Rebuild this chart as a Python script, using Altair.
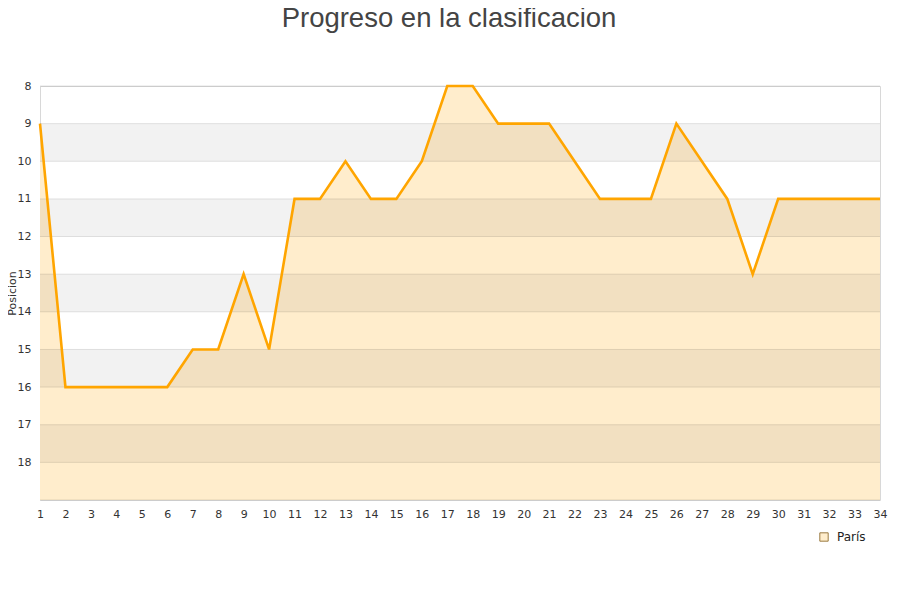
import altair as alt
import pandas as pd

jornadas = list(range(1, 35))
posiciones = [9, 16, 16, 16, 16, 16, 15, 15, 13, 15, 11, 11, 10, 11, 11, 10, 8, 8,
              9, 9, 9, 10, 11, 11, 11, 9, 10, 11, 13, 11, 11, 11, 11, 11]
equipo = "París"
band_starts = [9, 11, 13, 15, 17]
grid_values = list(range(8, 20))
y_ticks = list(range(8, 19))

df = pd.DataFrame({"jornada": jornadas, "posicion": posiciones, "equipo": [equipo] * len(jornadas)})
bands = pd.DataFrame({"y0": band_starts, "y1": [b + 1 for b in band_starts]})
grid = pd.DataFrame({"y": grid_values})

x_scale = alt.Scale(domain=[1, 34], nice=False, zero=False)
y_scale = alt.Scale(domain=[8, 19], reverse=True, nice=False, zero=False)

x_axis = alt.Axis(values=jornadas, labelAngle=0, ticks=False, domain=False, grid=False,
                  labelPadding=8, labelFontSize=11, labelColor="#333", labelFont="DejaVu Sans",
                  title=None, labelOverlap=False, labelFlush=False)
y_axis = alt.Axis(values=y_ticks, ticks=False, domain=False, grid=False, labelPadding=9,
                  labelFontSize=11, labelColor="#333", labelFont="DejaVu Sans",
                  labelFlush=False,
                  title="Posicion", titleFontSize=11, titleFontWeight="normal",
                  titleColor="#333", titleFont="DejaVu Sans", titleX=-23, titleY=207)

area_layer = alt.Chart(df).mark_area(opacity=1).encode(
    x=alt.X("jornada:Q", scale=x_scale, axis=x_axis),
    y=alt.Y("posicion:Q", scale=y_scale, axis=y_axis),
    y2=alt.datum(19),
    fill=alt.Fill("equipo:N", scale=alt.Scale(domain=[equipo], range=["#FFEDCC"]),
                  legend=alt.Legend(title=None, orient="none", legendX=778, legendY=445,
                                    symbolType="square", symbolSize=70, labelOffset=7,
                                    labelFontSize=12, labelFont="DejaVu Sans", labelColor="#222",
                                    symbolOpacity=1, symbolStrokeColor="#9a7a40",
                                    symbolStrokeWidth=1)),
)

band_layer = alt.Chart(bands).mark_rect(color="#000000", opacity=0.05).encode(
    x=alt.datum(1, scale=x_scale, axis=x_axis),
    x2=alt.datum(34),
    y=alt.Y("y0:Q", scale=y_scale, axis=y_axis),
    y2="y1:Q",
)

grid_layer = alt.Chart(grid).mark_rule(color="#000000", opacity=0.11, strokeWidth=1).encode(
    y=alt.Y("y:Q", scale=y_scale, axis=y_axis),
)

line_layer = alt.Chart(df).mark_line(color="#FFA500", strokeWidth=2.6).encode(
    x=alt.X("jornada:Q", scale=x_scale, axis=x_axis),
    y=alt.Y("posicion:Q", scale=y_scale, axis=y_axis),
)

chart = alt.layer(area_layer, band_layer, grid_layer, line_layer).properties(
    width=840, height=414,
    autosize=alt.AutoSizeParams(type="none"),
    padding={"left": 32, "top": 78, "right": 12, "bottom": 92},
    title=alt.TitleParams(text="Progreso en la clasificacion", font="Liberation Sans",
                          fontSize=27.5, fontWeight="normal", color="#444", anchor="middle",
                          dx=-11, offset=48),
).configure_view(stroke="#d8d8d8")

chart.save("out.html", embed_options={"renderer": "svg", "actions": False})
